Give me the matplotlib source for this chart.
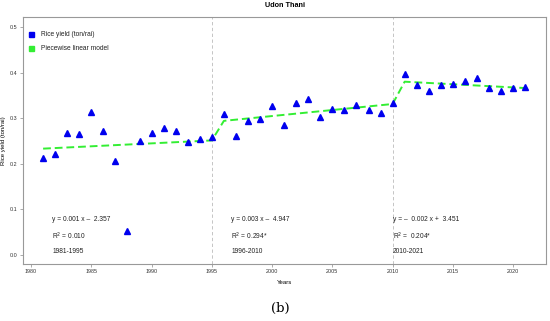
import numpy as np
import matplotlib.pyplot as plt

plt.rcParams['font.family'] = ['Liberation Sans', 'DejaVu Sans']

# Udon Thani rice yield (ton/rai)
years = list(range(1981, 2022))
yield_vals = [0.213, 0.221, 0.267, 0.265, 0.313, 0.271, 0.206, 0.052, 0.250, 0.268,
              0.279, 0.271, 0.247, 0.254, 0.258,
              0.308, 0.260, 0.293, 0.298, 0.326, 0.284, 0.333, 0.343, 0.302, 0.319,
              0.317, 0.329, 0.317, 0.312, 0.333,
              0.397, 0.372, 0.360, 0.373, 0.376, 0.382, 0.387, 0.367, 0.359, 0.367, 0.369]

# piecewise model end points
fit_years = [1981, 1995, 1996, 2010, 2011, 2021]
fit_vals = [0.233, 0.251, 0.294, 0.331, 0.380, 0.366]

breaks = [1995, 2010]
eq_x = [1981.75, 1996.6, 2010.0]
equations = ['y = 0.001 x \u2013  2.357', 'y = 0.003 x \u2013  4.947', 'y = \u2013  0.002 x +  3.451']
r2_labels = ['R$^2$ = 0.010', 'R$^2$ = 0.294*', 'R$^2$ =  0.204*']
periods = ['1981-1995', '1996-2010', '2010-2021']

fig = plt.figure(figsize=(5.5, 3.21), dpi=100)
ax = fig.add_axes([0.042, 0.178, 0.951, 0.769])

for b in breaks:
    ax.axvline(b, color='#bbbbbb', lw=0.6, ls=(0, (4, 3)), zorder=1)

ax.plot(fit_years, fit_vals, color='#33ee33', lw=1.4, ls=(0, (4, 2)), zorder=2)
ax.plot(years, yield_vals, ls='none', marker='^', ms=4.2, color='#0000ee', zorder=3)

for x, eq, r2, per in zip(eq_x, equations, r2_labels, periods):
    ax.text(x, 0.077, eq, fontsize=4.8, va='center', color='#222222')
    ax.text(x, 0.040, r2, fontsize=4.8, va='center', color='#222222')
    ax.text(x, 0.008, per, fontsize=4.8, va='center', color='#222222')

# legend, R style
ax.plot([1980.0], [0.484], ls='none', marker='s', ms=3.6, color='#0000ee')
ax.plot([1980.0], [0.453], ls='none', marker='s', ms=3.6, color='#33ee33')
ax.text(1980.8, 0.484, 'Rice yield (ton/rai)', fontsize=4.8, va='center', color='#222222')
ax.text(1980.8, 0.453, 'Piecewise linear model', fontsize=4.8, va='center', color='#222222')

ax.set_xlim(1979.34, 2022.74)
ax.set_ylim(-0.02, 0.522)
ax.set_xticks(range(1980, 2021, 5))
ax.set_yticks([0.0, 0.1, 0.2, 0.3, 0.4, 0.5])
ax.set_yticklabels(['0.0', '0.1', '0.2', '0.3', '0.4', '0.5'])
ax.tick_params(labelsize=3.9, length=2, width=0.5, color='#888888', labelcolor='#333333', pad=2)
for s in ax.spines.values():
    s.set_color('#999999')
    s.set_linewidth(0.8)

ax.set_xlabel('Years', fontsize=4.3, labelpad=4)
ax.set_ylabel('Rice yield (ton/rai)', fontsize=4.3, labelpad=3)
ax.set_title('Udon Thani', fontsize=5.2, fontweight='bold', pad=7)

fig.text(0.509, 0.028, '(b)', fontsize=9.5, family='DejaVu Serif', ha='center')

fig.savefig('out.png', dpi=100)
